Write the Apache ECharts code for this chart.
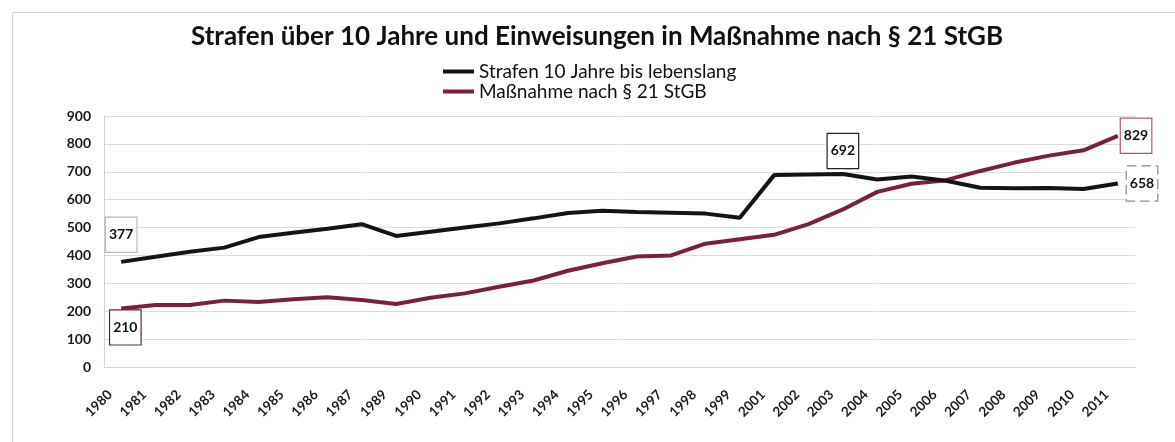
<!DOCTYPE html>
<html>
<head>
<meta charset="utf-8">
<script src="https://cdn.jsdelivr.net/npm/echarts@6/dist/echarts.min.js"></script>
<style>
  html, body { margin: 0; padding: 0; background: #fff; }
  #chart { width: 1175px; height: 442px; }
</style>
</head>
<body>
<div id="chart"></div>
<script>
// Years shown on the category axis (1988 and 2000 are not in the source table)
const years = ['1980','1981','1982','1983','1984','1985','1986','1987','1989','1990',
  '1991','1992','1993','1994','1995','1996','1997','1998','1999','2001',
  '2002','2003','2004','2005','2006','2007','2008','2009','2010','2011'];

// Sentences of more than 10 years up to life imprisonment
const strafen = [377,395,413,428,466,481,496,512,470,485,
  500,515,533,552,560,556,553,550,535,688,
  690,692,672,683,668,643,641,642,638,658];

// Committals under § 21 StGB
const massnahme = [210,222,222,238,233,243,250,240,226,248,
  264,288,310,345,372,396,400,442,458,474,
  512,565,628,657,670,703,733,758,777,829];

const yTicks = [0,100,200,300,400,500,600,700,800,900];

const seriesNames = ['Strafen 10 Jahre bis lebenslang', 'Maßnahme nach § 21 StGB'];
const titleText = 'Strafen über 10 Jahre und Einweisungen in Maßnahme nach § 21 StGB';

const FONT = 'Lato, "Open Sans", sans-serif';
const BLACK = '#141414';
const MAROON = '#7b1f40';

// Boxed value labels on selected points
const boxBase = {
  show: true,
  formatter: '{c}',
  fontFamily: FONT,
  fontWeight: 'bold',
  fontSize: 14,
  color: '#111',
  backgroundColor: '#fff',
  borderWidth: 1.2,
  padding: [10, 3, 10, 3]
};

const strafenLabels = {
  0:  Object.assign({}, boxBase, { position: 'top', distance: 10, borderColor: '#b8b8b8' }),
  21: Object.assign({}, boxBase, { position: 'top', distance: 6, borderColor: '#222' }),
  29: Object.assign({}, boxBase, { position: 'right', distance: 9, borderColor: '#8a8a9a', borderType: 'dashed' })
};
const massnahmeLabels = {
  0:  Object.assign({}, boxBase, { position: [-11, 2], borderColor: '#5a2838' }),
  29: Object.assign({}, boxBase, { position: 'right', distance: 3, borderColor: '#b05a78' })
};

function withLabels(values, labels) {
  return values.map((v, i) => labels[i] ? { value: v, label: labels[i] } : v);
}

const chart = echarts.init(document.getElementById('chart'), null, { renderer: 'canvas' });

chart.setOption({
  animation: false,
  backgroundColor: '#fff',
  textStyle: { fontFamily: FONT },
  graphic: [{
    type: 'rect',
    shape: { x: 12.5, y: 12.5, width: 1175, height: 440 },
    style: { fill: 'none', stroke: '#d4d4d4', lineWidth: 1 },
    silent: true
  }],
  title: {
    text: titleText,
    left: 186,
    top: 19,
    textStyle: { fontFamily: FONT, fontWeight: 'bold', fontSize: 26, color: '#111' }
  },
  legend: {
    orient: 'vertical',
    left: 438,
    top: 57,
    itemWidth: 31,
    itemHeight: 4,
    itemGap: 1,
    icon: 'rect',
    data: seriesNames,
    textStyle: { fontFamily: FONT, fontSize: 19, color: '#111', lineHeight: 19 }
  },
  grid: { left: 104, right: 40, top: 116, bottom: 75, containLabel: false },
  xAxis: {
    type: 'category',
    data: years,
    boundaryGap: true,
    axisLine: { show: true, lineStyle: { color: '#d6d6d6', width: 1 } },
    axisTick: { show: false },
    axisLabel: {
      interval: 0,
      rotate: 45,
      margin: 14,
      padding: [0, 16, 0, 0],
      fontFamily: FONT,
      fontWeight: 'bold',
      fontSize: 13.5,
      color: '#1a1a1a'
    },
    splitLine: { show: false }
  },
  yAxis: {
    type: 'value',
    min: yTicks[0],
    max: yTicks[yTicks.length - 1],
    interval: yTicks[1] - yTicks[0],
    axisLine: { show: true, lineStyle: { color: '#d0d0d0', width: 1 } },
    axisTick: { show: false },
    axisLabel: {
      margin: 13,
      fontFamily: FONT,
      fontWeight: 'bold',
      fontSize: 14,
      color: '#1a1a1a'
    },
    splitLine: { show: true, lineStyle: { color: '#dcdcdc', width: 1 } }
  },
  series: [
    {
      name: seriesNames[0],
      type: 'line',
      data: withLabels(strafen, strafenLabels),
      symbol: 'circle',
      symbolSize: 0.1,
      showSymbol: true,
      color: BLACK,
      lineStyle: { color: BLACK, width: 4 },
      labelLayout: { hideOverlap: false },
      z: 3
    },
    {
      name: seriesNames[1],
      type: 'line',
      data: withLabels(massnahme, massnahmeLabels),
      symbol: 'circle',
      symbolSize: 0.1,
      showSymbol: true,
      color: MAROON,
      lineStyle: { color: MAROON, width: 4 },
      labelLayout: { hideOverlap: false },
      z: 2
    }
  ]
});
</script>
</body>
</html>
